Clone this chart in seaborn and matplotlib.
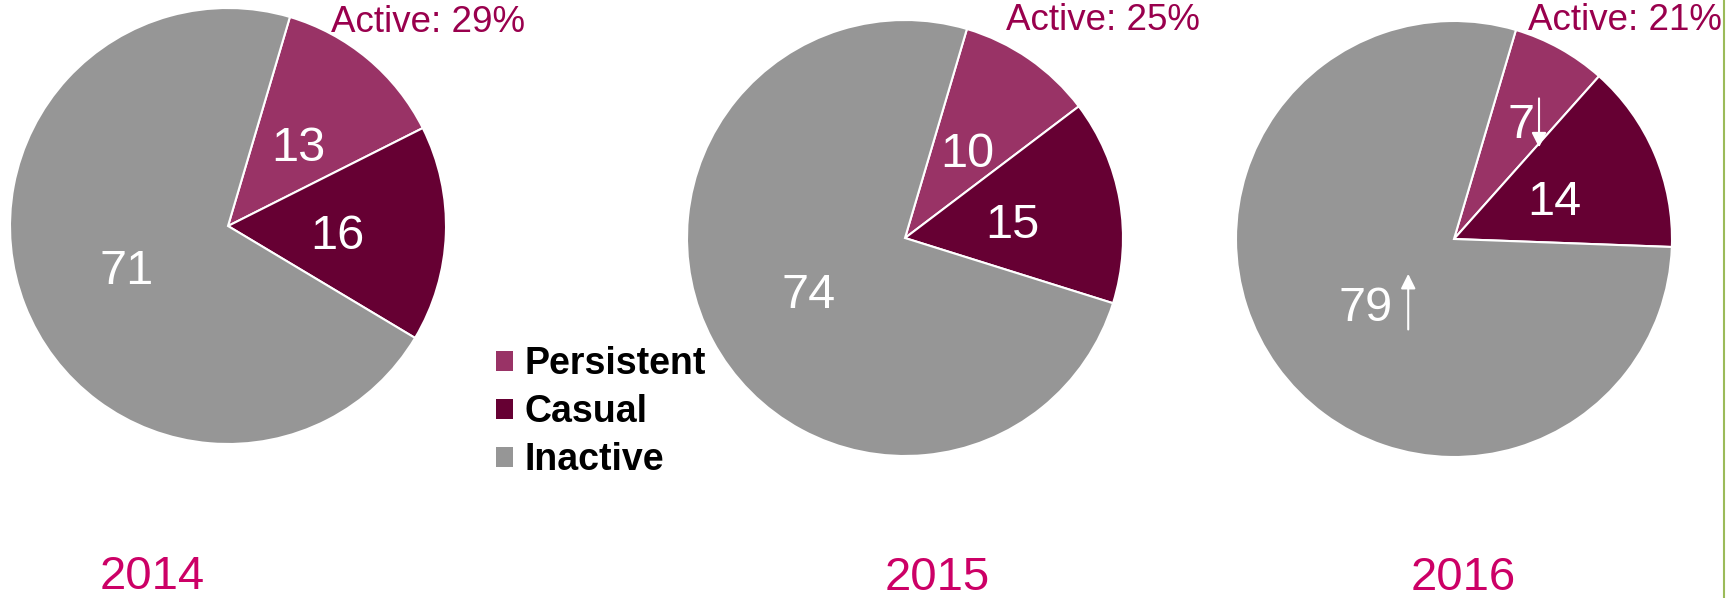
import numpy as np
import matplotlib
matplotlib.use("Agg")
import matplotlib.pyplot as plt
import matplotlib.transforms as mtransforms
import seaborn as sns
from matplotlib.patches import Patch
from matplotlib.lines import Line2D

# data
years = ["2014", "2015", "2016"]
categories = ["Persistent", "Casual", "Inactive"]
persistent = [13, 10, 7]
casual = [16, 15, 14]
inactive = [71, 74, 79]

colors = ["#993366", "#660033", "#969696"]
active_color = "#99004d"
year_color = "#cc0066"

sns.set_theme(style="white")
plt.rcParams["font.family"] = ["Liberation Sans", "DejaVu Sans"]

W, H = 1735, 598
fig = plt.figure(figsize=(W / 100, H / 100), dpi=100)

# layout in pixels (x, y from top)
centers = [(228, 226), (905, 238), (1454, 239)]
radius = 218
active_pos = [(428, 23), (1103, 20), (1625, 20)]
year_pos = [(152, 577), (937, 578), (1463, 578)]

for i, year in enumerate(years):
    cx, cy = centers[i]
    ax = fig.add_axes([(cx - radius) / W, 1 - (cy + radius) / H,
                       2 * radius / W, 2 * radius / H])
    vals = [persistent[i], casual[i], inactive[i]]
    total = sum(vals)
    wedges, texts, autotexts = ax.pie(
        vals, colors=colors, startangle=73.5, counterclock=False,
        autopct=lambda p, t=total: f"{p * t / 100:.0f}", pctdistance=0.5,
        wedgeprops=dict(edgecolor="white", linewidth=1.5),
        textprops=dict(color="white", fontsize=35))
    ax.set_xlim(-1, 1)
    ax.set_ylim(-1, 1)
    ax.set_aspect("equal")
    ax.axis("off")

    if year == "2016":
        # small slice label pushed outward, with trend arrows
        w = wedges[0]
        mid = np.deg2rad((w.theta1 + w.theta2) / 2)
        autotexts[0].set_position((0.63 * np.cos(mid), 0.63 * np.sin(mid)))
        ax.annotate("", xy=(0.39, 0.42), xytext=(0.39, 0.645),
                    arrowprops=dict(arrowstyle="-|>", color="white", lw=1.5,
                                    mutation_scale=22, shrinkA=0, shrinkB=0))
        ax.annotate("", xy=(-0.21, -0.16), xytext=(-0.21, -0.415),
                    arrowprops=dict(arrowstyle="-|>", color="white", lw=1.5,
                                    mutation_scale=22, shrinkA=0, shrinkB=0))

    # nudge value labels down a little
    for t in autotexts:
        t.set_transform(mtransforms.offset_copy(ax.transData, fig=fig,
                                                x=0, y=-4.5, units="points"))

    ax_active = persistent[i] + casual[i]
    fig.text(active_pos[i][0] / W, 1 - active_pos[i][1] / H,
             f"Active: {ax_active}%", color=active_color, fontsize=26.5,
             ha="center", va="center")
    fig.text(year_pos[i][0] / W, 1 - year_pos[i][1] / H, year,
             color=year_color, fontsize=34, ha="center", va="center")

handles = [Patch(facecolor=c, edgecolor="none") for c in colors]
leg = fig.legend(handles, categories, loc="center left",
                 bbox_to_anchor=(496 / W, 1 - 412 / H), frameon=False,
                 prop=dict(size=27, weight="bold"), handlelength=0.45,
                 handleheight=0.45, handletextpad=0.3, labelspacing=0.32,
                 borderpad=0, borderaxespad=0)
for t in leg.get_texts():
    t.set_color("black")

fig.add_artist(Line2D([1724 / W, 1724 / W], [0, 1], color="#9bbb59", lw=1.5))

fig.savefig("out.png", dpi=100, facecolor="white")
